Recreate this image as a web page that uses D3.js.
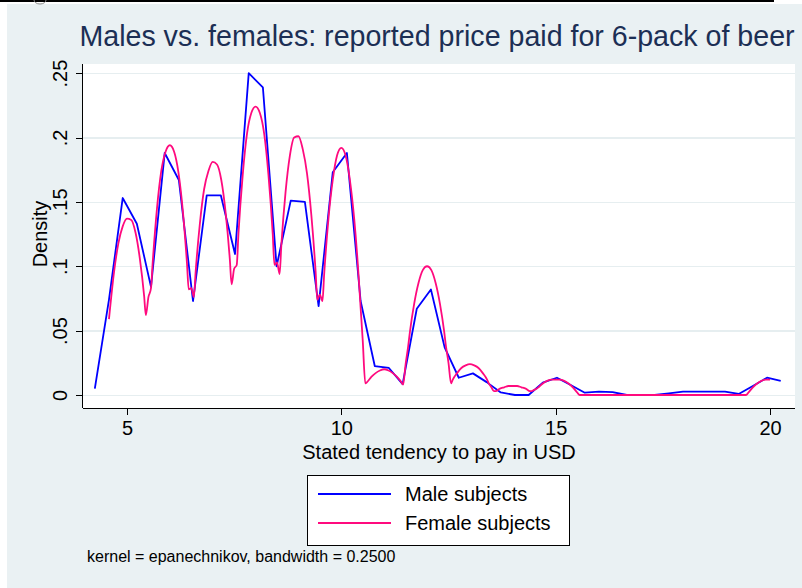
<!DOCTYPE html>
<html>
<head>
  <meta charset="utf-8">
  <title>Males vs. females</title>
  <script src="https://cdn.jsdelivr.net/npm/d3@7"></script>
  <style>
    body{margin:0;background:#fff;}
    text{font-family:"Liberation Sans",Arial,Helvetica,sans-serif;fill:#000;}
    .title{font-size:28.6px;fill:#1c2f55;text-anchor:middle;}
    .axis path,.axis line{fill:none;stroke:#000;stroke-width:1;shape-rendering:crispEdges;}
    .axis text{font-size:20px;fill:#000;}
    .grid line{stroke:#e6eef0;stroke-width:1.3;shape-rendering:crispEdges;}
    .grid path{display:none;}
  </style>
</head>
<body>
<script>
// data (density estimates)
var maleX = [4.25,4.58,4.90,5.23,5.56,5.88,6.21,6.54,6.86,7.19,7.52,7.84,8.17,8.49,8.82,9.15,9.47,9.80,10.13,10.45,
             10.78,11.11,11.43,11.76,12.09,12.41,12.74,13.07,13.39,13.72,14.05,14.37,14.70,15.03,15.35,15.68,16.01,16.33,16.66,16.99,
             17.31,17.64,17.97,18.29,18.62,18.95,19.27,19.60,19.93,20.25];
var maleY = [0.005,0.074,0.153,0.133,0.084,0.188,0.167,0.073,0.155,0.155,0.1095,0.250,0.239,0.100,0.151,0.150,0.069,0.173,0.188,0.073,
             0.0225,0.021,0.0085,0.067,0.082,0.037,0.0134,0.0168,0.010,0.002,0,0,0.0096,0.0134,0.0078,0.0018,0.0026,0.0022,0,0,
             0,0.0013,0.0026,0.0026,0.0026,0.0026,0.0008,0.007,0.0134,0.011];

var femaleX = [4.58,4.7,4.8,4.9,5.0,5.1,5.2,5.3,5.4,5.44,5.5,5.56,5.6,5.7,5.8,5.9,6.0,6.1,6.2,6.3,6.4,6.44,6.5,6.56,6.6,6.7,6.8,6.9,
               7.0,7.1,7.2,7.3,7.4,7.44,7.5,7.56,7.6,7.7,7.8,7.9,8.0,8.1,8.2,8.3,8.4,8.44,8.5,8.56,8.6,8.7,8.8,8.9,
               9.0,9.1,9.2,9.3,9.4,9.44,9.5,9.56,9.6,9.7,9.8,9.9,10.0,10.1,10.2,10.3,10.4,10.44,10.5,10.56,10.6,10.7,10.8,10.9,
               11.0,11.1,11.2,11.3,11.4,11.44,11.5,11.56,11.6,11.7,11.8,11.9,12.0,12.1,12.2,12.3,12.4,12.44,12.5,12.56,12.6,12.7,12.8,12.9,
               13.0,13.1,13.2,13.3,13.4,13.44,13.5,13.56,13.6,13.7,13.8,13.9,14.0,14.1,14.2,14.3,14.4,14.44,14.5,14.56,14.6,14.7,14.8,14.9,
               15.0,15.1,15.2,15.3,15.4,15.5,15.56,19.44,19.5,19.6,19.7,19.8,19.9,20.0];
var femaleY = [0.059,0.096,0.118,0.131,0.137,0.136,0.126,0.106,0.077,0.062,0.076,0.083,0.103,0.145,0.174,0.189,0.194,0.189,0.173,0.144,0.102,0.082,0.083,0.076,0.095,0.133,0.160,0.174,
               0.181,0.179,0.167,0.142,0.105,0.086,0.098,0.101,0.125,0.171,0.203,0.219,0.224,0.219,0.203,0.171,0.125,0.101,0.103,0.094,0.116,0.158,0.186,0.200,
               0.201,0.191,0.172,0.140,0.096,0.074,0.078,0.073,0.094,0.137,0.167,0.186,0.192,0.186,0.167,0.137,0.094,0.073,0.042,0.009,0.010,0.014,0.017,0.019,
               0.020,0.019,0.017,0.014,0.010,0.008,0.024,0.038,0.049,0.071,0.087,0.097,0.100,0.097,0.087,0.071,0.049,0.038,0.025,0.009,0.012,0.017,0.021,0.023,
               0.024,0.023,0.021,0.017,0.012,0.009,0.006,0.003,0.003,0.005,0.006,0.007,0.007,0.007,0.006,0.005,0.003,0.003,0.004,0.005,0.006,0.009,0.011,0.012,
               0.012,0.012,0.011,0.009,0.006,0.002,0,0,0.002,0.006,0.009,0.011,0.012,0.012];

var xTicks = [5,10,15,20];
var yTicks = [0,0.05,0.1,0.15,0.2,0.25];
var yTickLabels = ["0",".05",".1",".15",".2",".25"];
var seriesNames = ["Male subjects","Female subjects"];
var seriesColors = ["#0000ff","#ff0a7e"];

var width = 802, height = 588;
var plotLeft = 83, plotRight = 795, plotTop = 64, plotBottom = 408;

var svg = d3.select("body").append("svg")
    .attr("width", width)
    .attr("height", height);

// background of the graph region
svg.append("rect").attr("x",7).attr("y",4).attr("width",width-7).attr("height",height-4).attr("fill","#eaf1f3");
svg.append("line").attr("x1",0).attr("x2",774).attr("y1",1).attr("y2",1).attr("stroke","#000").attr("stroke-width",2);
svg.append("path").attr("d","M34,0 A6,4 0 0,0 46,0").attr("fill","none").attr("stroke","#888").attr("stroke-width",1);

// plot region
svg.append("rect").attr("x",plotLeft).attr("y",plotTop).attr("width",plotRight-plotLeft).attr("height",plotBottom-plotTop).attr("fill","#fff");

var x = d3.scaleLinear().domain([3.974, 20.583]).range([plotLeft, plotRight]);
var y = d3.scaleLinear().domain([-0.0101, 0.2571]).range([plotBottom, plotTop]);

// grid lines
svg.append("g").attr("class","grid")
   .attr("transform","translate("+plotLeft+",0)")
   .call(d3.axisLeft(y).tickValues(yTicks).tickSize(-(plotRight-plotLeft)).tickFormat(""));

// axes
var xAxis = svg.append("g").attr("class","axis")
   .attr("transform","translate(0,"+plotBottom+")")
   .call(d3.axisBottom(x).tickValues(xTicks).tickSize(7).tickSizeOuter(0).tickPadding(6));
xAxis.select(".domain").attr("d","M"+plotLeft+",0.5H"+plotRight);

var yAxis = svg.append("g").attr("class","axis")
   .attr("transform","translate("+plotLeft+",0)")
   .call(d3.axisLeft(y).tickValues(yTicks).tickSize(7).tickSizeOuter(0)
        .tickFormat(function(d,i){ return yTickLabels[i]; }));
yAxis.select(".domain").attr("d","M-0.5,"+plotTop+"V"+plotBottom);
yAxis.selectAll(".tick text")
   .attr("x",0).attr("dy",0).attr("y",0)
   .attr("text-anchor","middle")
   .attr("transform","translate(-16,0) rotate(-90)");

// axis titles
svg.append("text").attr("transform","translate(47,234) rotate(-90)")
   .attr("text-anchor","middle").style("font-size","20px").text("Density");
svg.append("text").attr("x",(plotLeft+plotRight)/2).attr("y",459)
   .attr("text-anchor","middle").style("font-size","20px").text("Stated tendency to pay in USD");

// title
svg.append("text").attr("class","title").attr("x",437).attr("y",46).text("Males vs. females: reported price paid for 6-pack of beer");

// lines
var line = d3.line()
   .x(function(d){ return x(d[0]); })
   .y(function(d){ return y(d[1]); });
var smooth = d3.line()
   .curve(d3.curveMonotoneX)
   .x(function(d){ return x(d[0]); })
   .y(function(d){ return y(d[1]); });

var maleData = maleX.map(function(v,i){ return [v, maleY[i]]; });
var femaleData = femaleX.map(function(v,i){ return [v, femaleY[i]]; });

svg.append("path").attr("d",line(maleData))
   .attr("fill","none").attr("stroke",seriesColors[0]).attr("stroke-width",1.8).attr("stroke-linejoin","round");
svg.append("path").attr("d",smooth(femaleData))
   .attr("fill","none").attr("stroke",seriesColors[1]).attr("stroke-width",1.8).attr("stroke-linejoin","round");

// legend
var lg = svg.append("g");
lg.append("rect").attr("x",307.5).attr("y",475.5).attr("width",262).attr("height",70)
  .attr("fill","#fff").attr("stroke","#000").attr("stroke-width",1);
seriesNames.forEach(function(name,i){
  var ly = 494 + i*29;
  lg.append("line").attr("x1",318).attr("x2",391).attr("y1",ly).attr("y2",ly)
    .attr("stroke",seriesColors[i]).attr("stroke-width",1.8);
  lg.append("text").attr("x",405).attr("y",ly+7).style("font-size","20px").text(name);
});

// note
svg.append("text").attr("x",87).attr("y",562).style("font-size","16px")
   .text("kernel = epanechnikov, bandwidth = 0.2500");
</script>
</body>
</html>
